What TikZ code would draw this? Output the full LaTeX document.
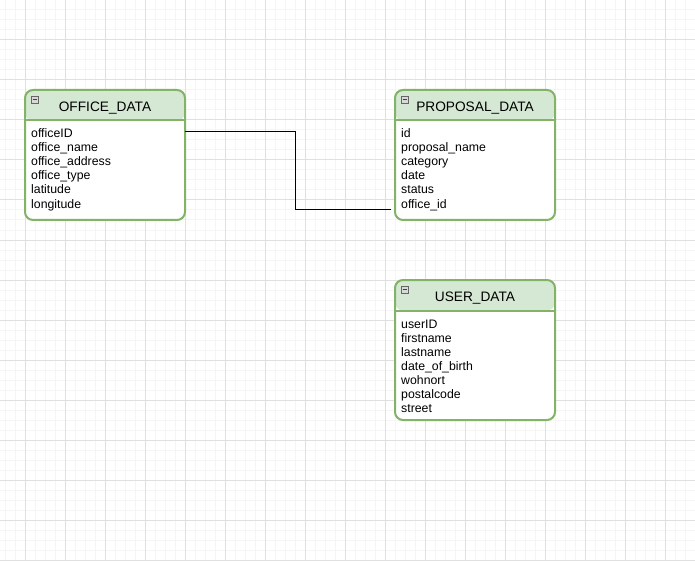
\documentclass[tikz,border=0pt]{standalone}
\usepackage{fontspec}
\setmainfont{Liberation Sans}
\usetikzlibrary{positioning}
\definecolor{entline}{HTML}{82B366}
\definecolor{entfill}{HTML}{D5E8D4}
\definecolor{gridmajor}{HTML}{E0E0E0}
\definecolor{gridminor}{HTML}{F5F5F5}
\begin{document}
\begin{tikzpicture}[x=1pt, y=-1pt,
  entity/.style={draw=entline, fill=white, line width=2pt, rounded corners=8pt,
    minimum width=160pt, inner sep=0pt, outer sep=0pt,
    path picture={
      \fill[entfill] (path picture bounding box.north west) rectangle
        ([yshift=-30.5pt]path picture bounding box.north east);
      \draw[entline, line width=2pt] ([yshift=-30.5pt]path picture bounding box.north west) --
        ([yshift=-30.5pt]path picture bounding box.north east);}},
  title/.style={font=\fontsize{13.7}{16}\selectfont, anchor=base, inner sep=0pt},
  field/.style={font=\fontsize{12.3}{14}\selectfont, anchor=base west, inner sep=0pt},
  fold/.style={draw=black!60, fill=black!15, line width=0.6pt, minimum size=7pt, inner sep=0pt,
    path picture={\draw[black!75, line width=0.8pt] ([xshift=1.5pt]path picture bounding box.west) --
      ([xshift=-1.5pt]path picture bounding box.east);}},
  link/.style={draw=black, line width=1pt}]
\useasboundingbox (0,0) rectangle (695,561);
% grid
\foreach \gx in {5,15,...,695} \draw[gridminor, line width=1pt] (\gx,0) -- (\gx,561);
\foreach \gy in {10,20,...,560} \draw[gridminor, line width=1pt] (0,\gy) -- (695,\gy);
\foreach \gx in {25,65,...,665} \draw[gridmajor, line width=1pt] (\gx,0) -- (\gx,561);
\foreach \gy in {0,40,...,560} \draw[gridmajor, line width=1pt] (0,\gy) -- (695,\gy);

% OFFICE_DATA
\node[entity, minimum height=130pt] (office) at (105,155) {};
\node[fold] (officefold) at (34.5,99.5) {};
\node[title] (officetitle) at (105,111.5) {OFFICE\_DATA};
\node[field] (officeid) at (31,138) {officeID};
\node[field] (officename) at (31,152) {office\_name};
\node[field] (officeaddress) at (31,166) {office\_address};
\node[field] (officetype) at (31,180) {office\_type};
\node[field] (latitude) at (31,194) {latitude};
\node[field] (longitude) at (31,208) {longitude};

% PROPOSAL_DATA
\node[entity, minimum height=130pt] (proposal) at (475,155) {};
\node[fold] (proposalfold) at (404.5,99.5) {};
\node[title] (proposaltitle) at (475,111.5) {PROPOSAL\_DATA};
\node[field] (propid) at (401,138) {id};
\node[field] (propname) at (401,152) {proposal\_name};
\node[field] (category) at (401,166) {category};
\node[field] (date) at (401,180) {date};
\node[field] (status) at (401,194) {status};
\node[field] (propoffice) at (401,208) {office\_id};

% USER_DATA
\node[entity, minimum height=140pt] (user) at (475,350) {};
\node[fold] (userfold) at (404.5,289.5) {};
\node[title] (usertitle) at (475,301.5) {USER\_DATA};
\node[field] (userid) at (401,328) {userID};
\node[field] (firstname) at (401,342) {firstname};
\node[field] (lastname) at (401,356) {lastname};
\node[field] (birth) at (401,370) {date\_of\_birth};
\node[field] (wohnort) at (401,384) {wohnort};
\node[field] (postalcode) at (401,398) {postalcode};
\node[field] (street) at (401,412) {street};

% relation
\draw[link] (office.east |- 0,132) -- (295,132) -- (295,210) -- ([xshift=-4pt]proposal.west |- 0,210);
\end{tikzpicture}
\end{document}
